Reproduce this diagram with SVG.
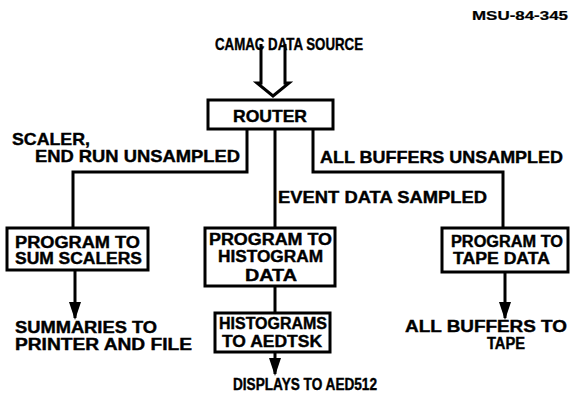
<svg xmlns="http://www.w3.org/2000/svg" width="573" height="410" viewBox="0 0 573 410">
  <style>
    .box { fill: #fff; stroke: #000; stroke-width: 3; }
    .wire { fill: none; stroke: #000; stroke-width: 3; stroke-linejoin: miter; }
    text { font-family: "Liberation Sans", Arial, sans-serif; font-weight: bold; font-size: 16px; fill: #000; stroke: #000; stroke-width: 0.4; }
    .big { font-size: 17px; }
    .small { font-size: 12px; stroke-width: 0.2; }
  </style>
  <defs>
    <marker id="arrow" viewBox="0 0 18 12" refX="16" refY="6" markerWidth="18" markerHeight="12" markerUnits="userSpaceOnUse" orient="auto">
      <path d="M0,0 L18,6 L0,12 Z" fill="#000"/>
    </marker>
  </defs>
  <rect width="573" height="410" fill="#fff"/>

  <text class="small" x="472" y="20" textLength="96" lengthAdjust="spacingAndGlyphs">MSU-84-345</text>

  <!-- source input: hollow arrow -->
  <g id="source">
    <path class="wire" d="M261,44 V83 H257 L273,96 L289,83 H285 V44" fill="#fff" stroke-width="2.5"/>
    <text class="big" x="215" y="50" textLength="148" lengthAdjust="spacingAndGlyphs">CAMAC DATA SOURCE</text>
  </g>

  <!-- connectors -->
  <g id="connectors">
    <polyline class="wire" points="247,129 247,172 73,172 73,228"/>
    <polyline class="wire" points="313,129 313,172 503,172 503,228"/>
    <line class="wire" x1="275" y1="129" x2="275" y2="228"/>
    <line class="wire" x1="275" y1="286" x2="275" y2="313"/>
    <line class="wire" x1="75" y1="270" x2="75" y2="318" marker-end="url(#arrow)"/>
    <line class="wire" x1="505" y1="272" x2="505" y2="318" marker-end="url(#arrow)"/>
    <line class="wire" x1="275" y1="352" x2="275" y2="374" marker-end="url(#arrow)"/>
  </g>

  <g id="router">
    <rect class="box" x="208" y="100" width="125" height="29"/>
    <text class="big" x="233" y="122" textLength="74" lengthAdjust="spacingAndGlyphs">ROUTER</text>
  </g>

  <g id="branch-labels">
    <text class="big" x="12" y="145" textLength="78" lengthAdjust="spacingAndGlyphs">SCALER,</text>
    <text class="big" x="35" y="162" textLength="205" lengthAdjust="spacingAndGlyphs">END RUN UNSAMPLED</text>
    <text class="big" x="320" y="163" textLength="243" lengthAdjust="spacingAndGlyphs">ALL BUFFERS UNSAMPLED</text>
    <text class="big" x="278" y="203" textLength="209" lengthAdjust="spacingAndGlyphs">EVENT DATA SAMPLED</text>
  </g>

  <g id="sum-scalers">
    <rect class="box" x="7" y="228" width="141" height="42"/>
    <text x="15" y="248" textLength="125" lengthAdjust="spacingAndGlyphs">PROGRAM TO</text>
    <text x="15" y="264" textLength="127" lengthAdjust="spacingAndGlyphs">SUM SCALERS</text>
  </g>

  <g id="histogram-data">
    <rect class="box" x="205" y="228" width="130" height="58"/>
    <text x="209" y="245" textLength="123" lengthAdjust="spacingAndGlyphs">PROGRAM TO</text>
    <text x="218" y="262" textLength="105" lengthAdjust="spacingAndGlyphs">HISTOGRAM</text>
    <text x="245" y="281" textLength="52" lengthAdjust="spacingAndGlyphs">DATA</text>
  </g>

  <g id="tape-data">
    <rect class="box" x="442" y="228" width="126" height="44"/>
    <text x="451" y="247" textLength="112" lengthAdjust="spacingAndGlyphs">PROGRAM TO</text>
    <text x="453" y="264" textLength="97" lengthAdjust="spacingAndGlyphs">TAPE DATA</text>
  </g>

  <g id="aedtsk">
    <rect class="box" x="215" y="313" width="115" height="39"/>
    <text x="219" y="329" textLength="108" lengthAdjust="spacingAndGlyphs">HISTOGRAMS</text>
    <text x="222" y="347" textLength="100" lengthAdjust="spacingAndGlyphs">TO AEDTSK</text>
  </g>

  <g id="outputs">
    <text x="15" y="333" textLength="142" lengthAdjust="spacingAndGlyphs">SUMMARIES TO</text>
    <text x="15" y="350" textLength="177" lengthAdjust="spacingAndGlyphs">PRINTER AND FILE</text>
    <text x="405" y="332" textLength="162" lengthAdjust="spacingAndGlyphs">ALL BUFFERS TO</text>
    <text x="487" y="349" textLength="38" lengthAdjust="spacingAndGlyphs">TAPE</text>
    <text x="233" y="390" textLength="144" lengthAdjust="spacingAndGlyphs">DISPLAYS TO AED512</text>
  </g>
</svg>
